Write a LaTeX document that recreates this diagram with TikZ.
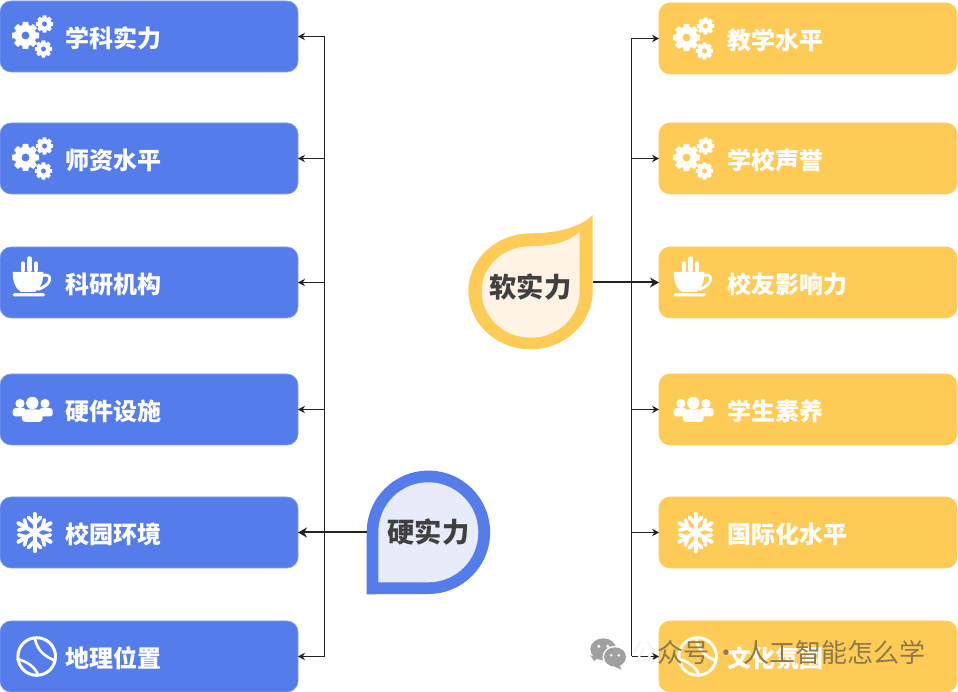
\documentclass[tikz,border=0pt]{standalone}
\usepackage{fontspec}
\usepackage{xcolor}
\usetikzlibrary{positioning,arrows.meta}
\setmainfont{Noto Sans CJK SC}
\definecolor{HardBlue}{HTML}{557CEB}
\definecolor{HardPale}{HTML}{E8ECFA}
\definecolor{SoftGold}{HTML}{FFCB57}
\definecolor{SoftPale}{HTML}{FFF3E6}
\definecolor{LineGray}{HTML}{222222}
\definecolor{TitleGray}{HTML}{404040}
\definecolor{MarkGray}{HTML}{A0A0A0}
\definecolor{MarkText}{HTML}{8C7A48}
\definecolor{MarkFaint}{HTML}{F4F4F4}
\tikzset{
  gearwheel/.pic={
    \foreach \a in {0,45,...,315} {
      \fill[white, rotate=\a] (-3.4,9) -- (-2.7,13.5) -- (2.7,13.5) -- (3.4,9) -- cycle;
    }
    \fill[white, even odd rule] (0,0) circle (10.8) (0,0) circle (4.1);
  },
  gears/.pic={
    \pic at (-7.5,1) {gearwheel};
    \pic[scale=.64] at (11.5,12.5) {gearwheel};
    \pic[scale=.64] at (10.5,-12.5) {gearwheel};
  },
  cup/.pic={
    \fill[white] (-20.3,10.7) -- (10.3,10.7) .. controls (10.3,1) and (8,-6) .. (2,-9.5)
      -- (-12,-9.5) .. controls (-18,-6) and (-20.3,1) .. cycle;
    \draw[white, line width=2.8] (9,7) .. controls (20,10) and (20,-2) .. (5,-7);
    \fill[white, rounded corners=1.5] (-20.3,-13.9) rectangle (12,-10.6);
    \draw[white, line width=4.4, line cap=round] (-10.3,12.5) -- (-10.3,19);
    \draw[white, line width=4.4, line cap=round] (-3.7,12.5) -- (-3.7,24);
    \draw[white, line width=4.4, line cap=round] (3,12.5) -- (3,19);
  },
  crowd/.pic={
    \fill[white] (-0.7,6.5) circle (6.2);
    \fill[white] (-13,6) circle (4.6);
    \fill[white] (12,6) circle (4.6);
    \fill[white, rounded corners=3] (-20.3,-7) -- (-20.3,1.5) -- (-7,1.5) -- (-7,-7) -- cycle;
    \fill[white, rounded corners=3] (19.7,-7) -- (19.7,1.5) -- (6,1.5) -- (6,-7) -- cycle;
    \fill[white, rounded corners=3] (-11,-12.3) -- (-11.5,-1) .. controls (-6,0.3) and (4,0.3) .. (9.5,-1) -- (9.5,-12.3) -- cycle;
  },
  flake/.pic={
    \foreach \a in {30,90,...,330} {
      \draw[white, line width=4, rotate=\a, line cap=round] (0,0) -- (18.5,0);
      \draw[white, line width=3.6, rotate=\a, line cap=round] (15,-6) -- (9,0) -- (15,6);
    }
    \fill[white] (0,0) circle (4.5);
  },
  ball/.pic={
    \draw[white, line width=3] (3.7,0) circle (18.8);
    \draw[white, line width=2.6] (2,17.7) .. controls (4,7) and (11,0) .. (22,-4);
    \draw[white, line width=2.6] (-16.3,-2.3) .. controls (-6,-5) and (2,-10) .. (5.4,-19);
  },
  wechat/.pic={
    \fill[MarkGray] (-13,-6) -- (-9,-12) -- (-5,-8) -- cycle;
    \fill[MarkGray] (0,0) ellipse (13 and 11);
    \fill[white] (-4.5,3) circle (1.7) (4.5,3) circle (1.7);
    \fill[white] (11.7,-7.7) ellipse (12.5 and 11.2);
    \fill[MarkGray] (16,-15) -- (18,-20.5) -- (9,-16) -- cycle;
    \fill[MarkGray] (11.7,-7.7) ellipse (11 and 9.7);
    \fill[white] (8,-6) circle (1.4) (15.5,-6) circle (1.4);
  }
}
\begin{document}
\begin{tikzpicture}[
  x=1pt, y=1pt,
  hardbox/.style={draw=HardBlue!75, line width=.6pt, outer sep=0pt, rounded corners=11pt, fill=HardBlue, text=white, align=left, text width=168pt, text height=22pt, text depth=0pt, inner xsep=0pt, minimum width=298pt, minimum height=71pt, font=\fontsize{24pt}{28pt}\selectfont\bfseries},
  softbox/.style={draw=SoftGold, line width=.6pt, outer sep=0pt, rounded corners=11pt, fill=SoftGold, text=white, align=left, text width=162pt, text height=22pt, text depth=0pt, inner xsep=0pt, minimum width=298pt, minimum height=71pt, font=\fontsize{24pt}{28pt}\selectfont\bfseries},
  drop/.style={circle, inner sep=0pt, minimum size=123.4pt, text=TitleGray, font=\fontsize{27.3pt}{30pt}\selectfont\bfseries},
  arrow/.style={-{Stealth[length=7pt,width=7.5pt]}, line width=1pt, draw=LineGray},
  bigarrow/.style={-{Stealth[length=9pt,width=10pt]}, line width=2pt, draw=LineGray},
  bus/.style={line width=1pt, draw=LineGray}
]
\useasboundingbox (0,0) rectangle (958,692);
% left column
\node[hardbox] (subject) at (149,655.5) {学科实力};
\node[hardbox, below=51pt of subject] (teacher) {师资水平};
\node[hardbox, below=53pt of teacher] (institute) {科研机构};
\node[hardbox, below=56pt of institute] (facility) {硬件设施};
\node[hardbox, below=52pt of facility] (campus) {校园环境};
\node[hardbox, below=53pt of campus] (location) {地理位置};
% right column
\node[softbox] (teach) at (808,653.5) {教学水平};
\node[softbox, below=49pt of teach] (repute) {学校声誉};
\node[softbox, below=53pt of repute] (alumni) {校友影响力};
\node[softbox, below=56pt of alumni] (student) {学生素养};
\node[softbox, below=52pt of student] (global) {国际化水平};
\node[softbox, below=53pt of global] (culture) {文化氛围};
% icons
\pic at ([xshift=33pt]subject.west) {gears};
\pic at ([xshift=33pt]teacher.west) {gears};
\pic at ([xshift=33pt]institute.west) {cup};
\pic at ([xshift=33pt]facility.west) {crowd};
\pic at ([xshift=34.5pt]campus.west) {flake};
\pic at ([xshift=33pt]location.west) {ball};
\pic at ([xshift=35pt]teach.west) {gears};
\pic at ([xshift=35pt]repute.west) {gears};
\pic at ([xshift=35pt]alumni.west) {cup};
\pic at ([xshift=35pt]student.west) {crowd};
\pic at ([xshift=36.5pt]global.west) {flake};
\pic at ([xshift=35pt]culture.west) {ball};
% drops
\fill[HardBlue] (366.7,97.7) -- (366.7,159.7) arc[start angle=180, end angle=-90, radius=61.7] -- cycle;
\fill[HardPale] (378.3,109.7) -- (378.3,159.7) arc[start angle=180, end angle=-90, radius=50] -- cycle;
\node[drop] (hard) at (428.4,159.7) {硬实力};
\fill[SoftGold] (592.7,477) -- (592.7,401) arc[start angle=0, end angle=-180, x radius=62.2, y radius=58.3]
  arc[start angle=180, end angle=90, x radius=62.9, y radius=57.7] .. controls (560,458.7) and (582,466) .. (592.7,477) -- cycle;
\fill[SoftPale] (579.7,460.3) -- (579.7,401) arc[start angle=0, end angle=-180, x radius=49, y radius=46.7]
  arc[start angle=180, end angle=90, x radius=48.3, y radius=44.7] .. controls (555,445.7) and (571,451.5) .. (579.7,460.3) -- cycle;
\node[drop, minimum size=124.4pt] (soft) at (530.5,405) {软实力};
% connectors
\coordinate (leftbus) at (324.5,346);
\coordinate (rightbus) at (631.5,346);
\draw[bus] (leftbus |- subject.east) -- (leftbus |- location.east);
\draw[bus] (rightbus |- teach.west) -- (rightbus |- culture.west);
\draw[arrow] (leftbus |- subject.east) -- (subject.east);
\draw[arrow] (leftbus |- teacher.east) -- (teacher.east);
\draw[arrow] (leftbus |- institute.east) -- (institute.east);
\draw[arrow] (leftbus |- facility.east) -- (facility.east);
\draw[arrow] (leftbus |- location.east) -- (location.east);
\draw[arrow] (rightbus |- teach.west) -- (teach.west);
\draw[arrow] (rightbus |- repute.west) -- (repute.west);
\draw[arrow] (rightbus |- student.west) -- (student.west);
\draw[arrow] (rightbus |- global.west) -- (global.west);
\draw[arrow] (rightbus |- culture.west) -- (culture.west);
\draw[bigarrow] (hard.west |- campus.east) -- (campus.east);
\draw[bigarrow] (soft.east |- alumni.west) -- (alumni.west);
% watermark
\pic at (603.3,42.7) {wechat};
\node[anchor=west, inner sep=0pt, text=MarkText, font=\fontsize{26pt}{30pt}\selectfont] (mark) at (631,39) {\textcolor{MarkFaint}{公}众号\hspace{4pt}·\hspace{4pt}人工智能怎么学};
\end{tikzpicture}
\end{document}
